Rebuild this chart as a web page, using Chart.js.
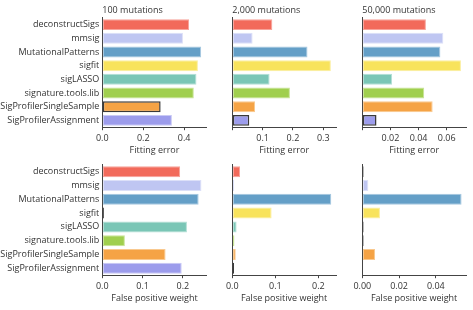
<!DOCTYPE html>
<html>
<head>
<meta charset="utf-8">
<script src="https://cdn.jsdelivr.net/npm/chart.js@4.4.1/dist/chart.umd.min.js"></script>
<style>
  html, body { margin: 0; padding: 0; background: #fff; }
  body { width: 473px; height: 310px; position: relative; overflow: hidden; }
  .c { position: absolute; }
</style>
</head>
<body>
<div class="c" style="left:0px;top:0px;width:210px;height:160px"><canvas id="p0"></canvas></div>
<div class="c" style="left:216px;top:0px;width:124px;height:160px"><canvas id="p1"></canvas></div>
<div class="c" style="left:346px;top:0px;width:124px;height:160px"><canvas id="p2"></canvas></div>
<div class="c" style="left:0px;top:150px;width:210px;height:158px"><canvas id="p3"></canvas></div>
<div class="c" style="left:216px;top:150px;width:124px;height:158px"><canvas id="p4"></canvas></div>
<div class="c" style="left:346px;top:150px;width:124px;height:158px"><canvas id="p5"></canvas></div>
<script>
const categories = ['deconstructSigs', 'mmsig', 'MutationalPatterns', 'sigfit', 'sigLASSO', 'signature.tools.lib', 'SigProfilerSingleSample', 'SigProfilerAssignment'];
const fillColors = ['#F26A5B', '#BFC6F2', '#649FC7', '#F8E35C', '#7AC6B6', '#A0CF4E', '#F5A345', '#9C9CEC'];
const edgeColors = ['#F7A39A', '#DCE0F8', '#A6C8E0', '#FBEE9E', '#B3DFD5', '#C8E496', '#F9C98F', '#C9C9F4'];

const panelTitles = ['100 mutations', '2,000 mutations', '50,000 mutations'];
const fitError100 = [0.424, 0.394, 0.483, 0.467, 0.460, 0.447, 0.285, 0.340];
const fitError2000 = [0.132, 0.067, 0.248, 0.325, 0.123, 0.190, 0.075, 0.056];
const fitError50000 = [0.0452, 0.0576, 0.0555, 0.0701, 0.0212, 0.0440, 0.0500, 0.0101];
const fpWeight100 = [0.193, 0.246, 0.239, 0.004, 0.210, 0.056, 0.157, 0.197];
const fpWeight2000 = [0.018, 0.0045, 0.230, 0.0914, 0.010, 0.005, 0.008, 0.004];
const fpWeight50000 = [0.0007, 0.0033, 0.054, 0.0096, 0.0007, 0.0007, 0.0069, 0];

const best100 = [6], best2000 = [7], best50000 = [7];
const bestFp100 = [3], bestFp2000 = [7], bestFp50000 = [0, 4, 5];

const axisMax = [0.51, 0.342, 0.0737, 0.259, 0.241, 0.0564];
const tickStep = [0.2, 0.1, 0.02, 0.1, 0.1, 0.02];
const tickDecimals = [1, 1, 2, 1, 1, 2];
const hideZero = [false, true, true, false, false, false];
const xTitles = ['Fitting error', 'Fitting error', 'Fitting error', 'False positive weight', 'False positive weight', 'False positive weight'];

const FONT = 'Open Sans';
const TXT = '#333333';

const titleLeftPlugin = {
  id: 'titleLeft',
  afterLayout(chart) {
    if (chart.titleBlock && chart.chartArea) {
      chart.titleBlock.left = chart.chartArea.left;
    }
  }
};

function makePanel(id, idx, values, best, showLabels, title) {
  const yWidth = showLabels ? 102.3 : 16.3;
  const border = values.map((v, i) => best.includes(i) ? '#3A3A3A' : edgeColors[i]);
  const bw = values.map((v, i) => best.includes(i) ? 1.5 : 1);
  const isTop = !!title;
  new Chart(document.getElementById(id), {
    type: 'bar',
    data: {
      labels: categories,
      datasets: [{
        data: values,
        backgroundColor: fillColors,
        borderColor: border,
        borderWidth: bw,
        borderSkipped: false,
        barPercentage: 0.8,
        categoryPercentage: 1.0
      }]
    },
    options: {
      indexAxis: 'y',
      responsive: true,
      maintainAspectRatio: false,
      animation: false,
      devicePixelRatio: 1,
      layout: { padding: { left: 0, right: showLabels ? 3.3 : 4, top: isTop ? 0 : 14.8, bottom: 0 } },
      plugins: {
        legend: { display: false },
        tooltip: { enabled: false },
        title: {
          display: isTop,
          text: title || '',
          align: 'start',
          color: TXT,
          font: { family: FONT, size: 9, weight: 'normal', lineHeight: 1.2 },
          padding: { top: 5.5, bottom: 1.5 }
        }
      },
      scales: {
        x: {
          type: 'linear',
          min: 0,
          max: axisMax[idx],
          afterFit(scale) { scale.height = 32.8; },
          border: { display: true, color: '#444444', width: 1 },
          grid: { display: true, drawOnChartArea: false, drawTicks: true, tickLength: 3, color: '#444444' },
          ticks: {
            stepSize: tickStep[idx],
            includeBounds: false,
            color: TXT,
            padding: 2.5,
            maxRotation: 0,
            autoSkip: false,
            font: { family: FONT, size: 9 },
            callback(v) {
              if (hideZero[idx] && Math.abs(v) < 1e-12) return '';
              return Number(v).toFixed(tickDecimals[idx]);
            }
          },
          title: {
            display: true,
            text: xTitles[idx],
            color: TXT,
            font: { family: FONT, size: 9 },
            padding: { top: 0, bottom: 4 }
          }
        },
        y: {
          type: 'category',
          afterFit(scale) { scale.width = yWidth; },
          border: { display: true, color: '#444444', width: 1 },
          grid: { display: false, drawTicks: false },
          ticks: {
            display: showLabels,
            color: TXT,
            padding: 3,
            autoSkip: false,
            font: { family: FONT, size: 9 }
          }
        }
      }
    },
    plugins: [titleLeftPlugin]
  });
}

makePanel('p0', 0, fitError100, best100, true, panelTitles[0]);
makePanel('p1', 1, fitError2000, best2000, false, panelTitles[1]);
makePanel('p2', 2, fitError50000, best50000, false, panelTitles[2]);
makePanel('p3', 3, fpWeight100, bestFp100, true, null);
makePanel('p4', 4, fpWeight2000, bestFp2000, false, null);
makePanel('p5', 5, fpWeight50000, bestFp50000, false, null);
</script>
</body>
</html>
